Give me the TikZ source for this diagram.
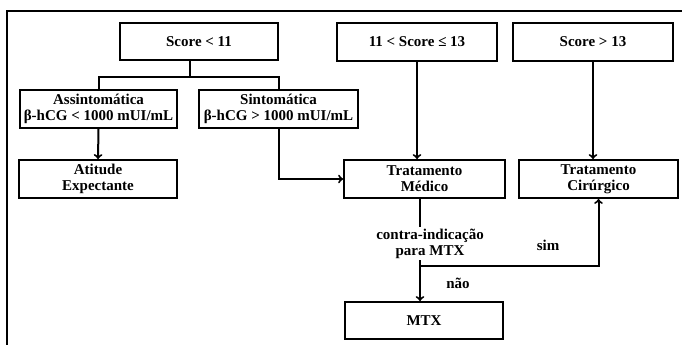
\documentclass[tikz,border=0pt]{standalone}
\usepackage{fontspec}
\setmainfont{Liberation Serif}
\usetikzlibrary{arrows}
\tikzstyle{every node}=[font=\fontsize{15}{16}\selectfont\bfseries]
\tikzstyle{every path}=[line width=2pt,line join=miter]
\tikzstyle{caixa}=[draw,rectangle,align=center,inner sep=0pt,minimum height=38pt]
\begin{document}
\begin{tikzpicture}[x=1pt,y=-1pt]
\useasboundingbox (0,0) rectangle (686,345);
\draw [line width=1.3pt] (7,345) -- (7,11) -- (682,11);

\node [caixa,minimum width=158pt,minimum height=37pt] (score1) at (199,41.5) {Score < 11};
\node [caixa,minimum width=160pt] (score2) at (417,42) {11 < Score ≤ 13};
\node [caixa,minimum width=160pt] (score3) at (593,42) {Score > 13};

\node [caixa,minimum width=157pt] (assint) at (98.5,109) {Assintomática\\β-hCG < 1000 mUI/mL};
\node [caixa,minimum width=159pt] (sint) at (278.5,109) {Sintomática\\β-hCG > 1000 mUI/mL};

\node [caixa,minimum width=158pt] (atitude) at (98,179) {Atitude\\Expectante};
\node [caixa,minimum width=161pt] (medico) at (424.5,179) {Tratamento\\Médico};
\node [caixa,minimum width=159pt] (cirurg) at (598.5,179) {Tratamento\\Cirúrgico};
\node [caixa,minimum width=158pt,minimum height=37pt] (mtx) at (424,320.5) {MTX};

\node [align=center,inner sep=1pt] (contra) at (430,243.5) {contra-indicação\\para MTX};
\node (sim) at (548,245) {sim};
\node (nao) at (458,283) {não};

\coordinate (ramo) at (190,77);
\coordinate (juncao) at (420,266);

\draw (ramo |- score1.south) -- (ramo);
\draw (assint.north) |- (ramo) -| (sint.north);
\draw [-to](assint.south) -- (atitude.north);
\draw [-to](sint.south) |- (medico.west);
\draw [-to](score2.south) -- (score2.south |- medico.north);
\draw [-to](score3.south) -- (score3.south |- cirurg.north);
\draw (juncao |- medico.south) -- (juncao |- contra.north);
\draw (juncao |- contra.south) -- (juncao);
\draw [-to](juncao) -- (juncao |- mtx.north);
\draw [-to](juncao) -| (cirurg.south);
\end{tikzpicture}
\end{document}
